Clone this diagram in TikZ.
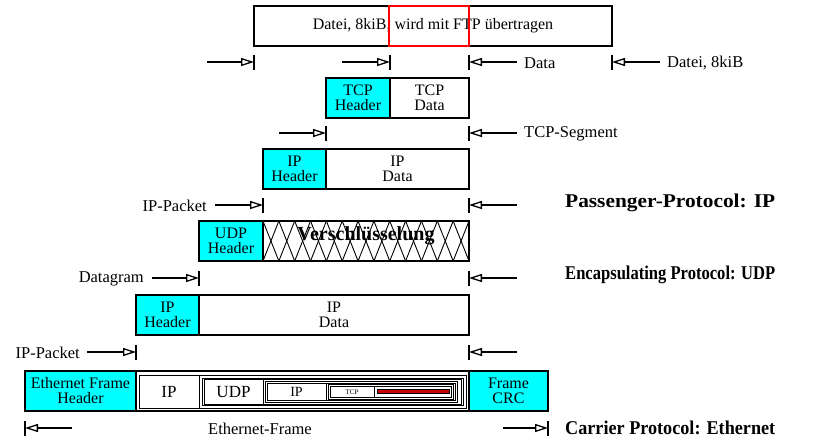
\documentclass[tikz,border=0pt]{standalone}
\usepackage{fontspec}
\usepackage{graphicx}
\setmainfont{Liberation Serif}
\usetikzlibrary{arrows.meta}
\definecolor{aqua}{RGB}{0,255,255}
\definecolor{barred}{RGB}{200,0,0}
\newcommand\boldlab[1]{\resizebox{210pt}{\height}{\bfseries\fontsize{19.5}{19.5}\selectfont #1}}
\tikzset{
  box/.style={draw, line width=1.5pt, inner sep=0pt, outer sep=0pt, minimum height=40pt, align=center, font=\fontsize{16}{15}\selectfont},
  hdr/.style={box, fill=aqua},
  dimarrow/.style={line width=1.3pt, -{Triangle[open, length=13pt, width=8pt, line width=1.3pt]}},
  tickline/.style={line width=1.3pt},
  lab/.style={inner sep=0pt, font=\fontsize{16.5}{16.5}\selectfont},
  thin/.style={line width=0.9pt},
}
\begin{document}
\begin{tikzpicture}[x=1pt,y=-1pt]
\useasboundingbox (0,0) rectangle (831,440);
% top file box
\node[box, minimum width=358pt] (file) at (433,26) {Datei, 8kiB, wird mit FTP übertragen};
\node[draw=red, line width=1.5pt, inner sep=0pt, minimum width=80pt, minimum height=40pt] (ftp) at (429,26) {};
% row 1 dims
\coordinate (t1a) at (254,62); \coordinate (t1b) at (390,62); \coordinate (t1c) at (469,62); \coordinate (t1d) at (612,62);
\foreach \c in {t1a,t1b,t1c,t1d} \draw[tickline] ([yshift=-7.5pt]\c) -- ([yshift=7.5pt]\c);
\coordinate (s1a) at (207,62); \coordinate (s1b) at (342,62); \coordinate (s1c) at (517,62); \coordinate (s1d) at (660,62);
\draw[dimarrow] (s1a) -- (t1a);
\draw[dimarrow] (s1b) -- (t1b);
\draw[dimarrow] (s1c) -- (t1c);
\draw[dimarrow] (s1d) -- (t1d);
\node[lab, anchor=west] (ldata) at (524,63) {Data};
\node[lab, anchor=west] (ldatei) at (667,63) {Datei, 8kiB};
% TCP row
\node[hdr, minimum width=64pt] (tcph) at (358,98) {TCP\\Header};
\node[box, minimum width=79pt] (tcpd) at (429.5,98) {TCP\\Data};
\coordinate (t2a) at (326,133); \coordinate (t2b) at (469,133);
\foreach \c in {t2a,t2b} \draw[tickline] ([yshift=-7.5pt]\c) -- ([yshift=7.5pt]\c);
\coordinate (s2a) at (279,133); \coordinate (s2b) at (517,133);
\draw[dimarrow] (s2a) -- (t2a);
\draw[dimarrow] (s2b) -- (t2b);
\node[lab, anchor=west] (lseg) at (524,134) {TCP-Segment};
% IP row
\node[hdr, minimum width=63pt] (iph) at (294.5,169) {IP\\Header};
\node[box, minimum width=143pt] (ipd) at (397.5,169) {IP\\Data};
\coordinate (t3a) at (263,205); \coordinate (t3b) at (469,205);
\foreach \c in {t3a,t3b} \draw[tickline] ([yshift=-7.5pt]\c) -- ([yshift=7.5pt]\c);
\coordinate (s3a) at (215,205); \coordinate (s3b) at (517,205);
\draw[dimarrow] (s3a) -- (t3a);
\draw[dimarrow] (s3b) -- (t3b);
\node[lab, anchor=east] (lipp) at (207,206) {IP-Packet};
\node[inner sep=0pt, anchor=west] (lpass) at (565,203) {\boldlab{Passenger-Protocol: IP}};
% UDP row
\node[hdr, minimum width=64pt] (udph) at (231,241) {UDP\\Header};
\node[box, minimum width=206pt] (encr) at (366,241) {};
\foreach \i in {0,...,12} {
  \draw[thin] (263+\i*15.846,221) -- (263+\i*15.846+15.846,261);
  \draw[thin] (263+\i*15.846+15.846,221) -- (263+\i*15.846,261);
}
\node[box, minimum width=206pt] at (366,241) {};
\node[inner sep=0pt, anchor=base, font=\bfseries\fontsize{20}{20}\selectfont] (enc) at (366,240) {Verschlüsselung};
\coordinate (t4a) at (199,278); \coordinate (t4b) at (469,278);
\foreach \c in {t4a,t4b} \draw[tickline] ([yshift=-7.5pt]\c) -- ([yshift=7.5pt]\c);
\coordinate (s4a) at (152,278); \coordinate (s4b) at (517,278);
\draw[dimarrow] (s4a) -- (t4a);
\draw[dimarrow] (s4b) -- (t4b);
\node[lab, anchor=east] (ldg) at (144,279) {Datagram};
\node[inner sep=0pt, anchor=west] (lencap) at (565,275) {\boldlab{Encapsulating Protocol: UDP}};
% outer IP row
\node[hdr, minimum width=63pt] (ip2h) at (167.5,315) {IP\\Header};
\node[box, minimum width=270pt] (ip2d) at (334,315) {IP\\Data};
\coordinate (t5a) at (136,352); \coordinate (t5b) at (469,352);
\foreach \c in {t5a,t5b} \draw[tickline] ([yshift=-7.5pt]\c) -- ([yshift=7.5pt]\c);
\coordinate (s5a) at (87,352); \coordinate (s5b) at (517,352);
\draw[dimarrow] (s5a) -- (t5a);
\draw[dimarrow] (s5b) -- (t5b);
\node[lab, anchor=east] (lipp2) at (80,353) {IP-Packet};
% Ethernet row
\node[hdr, minimum width=111pt] (ethh) at (80.5,391) {Ethernet Frame\\Header};
\node[box, minimum width=333pt] (ethp) at (302.5,391) {};
\node[hdr, minimum width=79pt] (crc) at (508.5,391) {Frame\\CRC};
\draw[thin] (139,375) rectangle (466,408);
\draw[thin] (199,375) -- (199,408);
\draw[thin] (202,378) rectangle (463,405.5);
\draw[thin] (204,379.5) rectangle (461,404);
\draw[thin] (263,379.5) -- (263,404);
\draw[thin] (265,381.5) rectangle (457,402);
\draw[thin] (267,383) rectangle (455,400.5);
\draw[thin] (326,383) -- (326,400.5);
\draw[thin] (328,384.5) rectangle (453,399);
\draw[thin] (330,386) rectangle (451,397.5);
\draw[thin] (374,386) -- (374,397.5);
\draw[line width=0.7pt, fill=barred] (377,389.5) rectangle (449,393.5);
\node[inner sep=0pt, font=\fontsize{17}{17}\selectfont] (eip) at (169,392) {IP};
\node[inner sep=0pt, font=\fontsize{17}{17}\selectfont] (eudp) at (233.5,392) {UDP};
\node[inner sep=0pt, font=\fontsize{14}{14}\selectfont] (eip2) at (296.5,392) {IP};
\node[inner sep=0pt, font=\fontsize{7}{7}\selectfont] (etcp) at (352,392) {TCP};
\coordinate (t6a) at (25,428); \coordinate (t6b) at (548,428);
\foreach \c in {t6a,t6b} \draw[tickline] ([yshift=-7.5pt]\c) -- ([yshift=7.5pt]\c);
\coordinate (s6a) at (72,428); \coordinate (s6b) at (503,428);
\draw[dimarrow] (s6a) -- (t6a);
\draw[dimarrow] (s6b) -- (t6b);
\node[lab] (lef) at (260,429) {Ethernet-Frame};
\node[inner sep=0pt, anchor=west] (lcarr) at (565,428) {\boldlab{Carrier Protocol: Ethernet}};
\end{tikzpicture}
\end{document}
